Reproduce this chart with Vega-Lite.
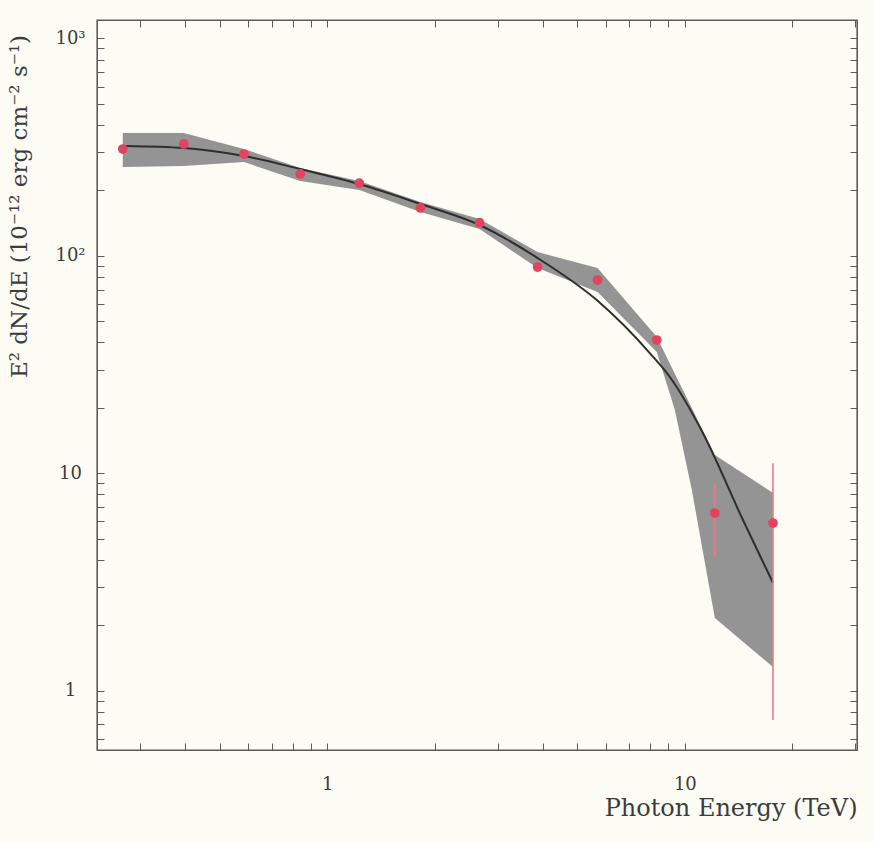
{
  "$schema": "https://vega.github.io/schema/vega-lite/v6.json",
  "width": 760,
  "height": 730,
  "autosize": {"type": "none"},
  "padding": {"left": 97, "top": 20, "right": 17, "bottom": 93},
  "background": "#fcfcf4",
  "config": {
    "view": {"stroke": "#5a5a5a", "strokeWidth": 1.4},
    "font": "DejaVu Serif",
    "axis": {
      "labelFont": "DejaVu Serif",
      "titleFont": "DejaVu Serif",
      "labelFontSize": 18,
      "titleFontSize": 23,
      "titleFontWeight": "normal",
      "labelColor": "#3c3c3c",
      "titleColor": "#3c3c3c",
      "domainColor": "#5a5a5a",
      "tickColor": "#5a5a5a",
      "grid": false,
      "tickSize": -7,
      "labelFlush": false,
      "labelOverlap": false
    }
  },
  "datasets": {
    "points": [
      {"E": 0.268, "F": 310},
      {"E": 0.397, "F": 327},
      {"E": 0.585, "F": 294},
      {"E": 0.84, "F": 238},
      {"E": 1.229, "F": 216},
      {"E": 1.822, "F": 166},
      {"E": 2.666, "F": 142},
      {"E": 3.874, "F": 88.8},
      {"E": 5.7, "F": 77.4},
      {"E": 8.35, "F": 41.0},
      {"E": 12.13, "F": 6.56, "lo": 4.12, "hi": 9.02},
      {"E": 17.64, "F": 5.9, "lo": 0.732, "hi": 11.1}
    ],
    "band": [
      {"E": 0.268, "lo": 256.1, "hi": 367.2},
      {"E": 0.397, "lo": 258.8, "hi": 367.2},
      {"E": 0.585, "lo": 270.1, "hi": 309.9},
      {"E": 0.84, "lo": 220.9, "hi": 253.4},
      {"E": 1.229, "lo": 200.8, "hi": 220.9},
      {"E": 1.822, "lo": 159.0, "hi": 176.8},
      {"E": 2.666, "lo": 132.8, "hi": 147.7},
      {"E": 3.874, "lo": 87.9, "hi": 104.1},
      {"E": 5.7, "lo": 68.2, "hi": 87.9},
      {"E": 8.35, "lo": 36.1, "hi": 42.3},
      {"E": 9.38, "lo": 19.5, "hi": 28.6},
      {"E": 10.46, "lo": 8.37, "hi": 19.95},
      {"E": 12.13, "lo": 2.158, "hi": 12.13},
      {"E": 17.64, "lo": 1.284, "hi": 8.11}
    ],
    "fit": [
      {"E": 0.2735, "F": 319.9},
      {"E": 0.397, "F": 313.2},
      {"E": 0.585, "F": 287.8},
      {"E": 0.84, "F": 250.8},
      {"E": 1.229, "F": 213.9},
      {"E": 1.822, "F": 173.1},
      {"E": 2.666, "F": 138.6},
      {"E": 3.874, "F": 97.7},
      {"E": 5.67, "F": 62.6},
      {"E": 7.98, "F": 35.7},
      {"E": 9.08, "F": 27.7},
      {"E": 11.23, "F": 15.31},
      {"E": 14.54, "F": 6.09},
      {"E": 17.64, "F": 3.13}
    ]
  },
  "layer": [
    {
      "data": {"name": "band"},
      "mark": {"type": "area", "color": "#8e8e8e", "opacity": 0.95},
      "encoding": {
        "x": {
          "field": "E",
          "type": "quantitative",
          "scale": {"type": "log", "domain": [0.227, 30.3], "nice": false},
          "axis": {
            "orient": "bottom",
            "values": [0.3, 0.4, 0.5, 0.6, 0.7, 0.8, 0.9, 1, 2, 3, 4, 5, 6, 7, 8, 9, 10, 20, 30],
            "labelExpr": "datum.value == 1 ? '1' : datum.value == 10 ? '10' : ''",
            "labelPadding": 32,
            "title": "Photon Energy (TeV)",
            "titleFontSize": 24,
            "titleAnchor": "end",
            "titleAlign": "right",
            "titleBaseline": "middle",
            "titleX": 760,
            "titleY": 58
          }
        },
        "y": {
          "field": "hi",
          "type": "quantitative",
          "scale": {"type": "log", "domain": [0.533, 1216], "nice": false},
          "axis": {
            "orient": "left",
            "values": [0.6, 0.7, 0.8, 0.9, 1, 2, 3, 4, 5, 6, 7, 8, 9, 10, 20, 30, 40, 50, 60, 70, 80, 90, 100, 200, 300, 400, 500, 600, 700, 800, 900, 1000],
            "labelExpr": "datum.value == 1 ? '1' : datum.value == 10 ? '10' : datum.value == 100 ? '10²' : datum.value == 1000 ? '10³' : ''",
            "labelAlign": "center",
            "labelBaseline": "middle",
            "labelPadding": 34,
            "title": "E² dN/dE (10⁻¹² erg  cm⁻²  s⁻¹)",
            "titleAngle": -90,
            "titleAlign": "center",
            "titleBaseline": "middle",
            "titleX": -78,
            "titleY": 186
          }
        },
        "y2": {"field": "lo"}
      }
    },
    {
      "data": {"name": "fit"},
      "mark": {"type": "line", "color": "#2e2e2e", "strokeWidth": 2, "interpolate": "monotone"},
      "encoding": {
        "x": {
          "field": "E",
          "type": "quantitative",
          "scale": {"type": "log", "domain": [0.227, 30.3], "nice": false},
          "axis": {
            "orient": "top",
            "values": [0.3, 0.4, 0.5, 0.6, 0.7, 0.8, 0.9, 1, 2, 3, 4, 5, 6, 7, 8, 9, 10, 20, 30],
            "labels": false,
            "title": null
          }
        },
        "y": {
          "field": "F",
          "type": "quantitative",
          "scale": {"type": "log", "domain": [0.533, 1216], "nice": false},
          "axis": {
            "orient": "right",
            "values": [0.6, 0.7, 0.8, 0.9, 1, 2, 3, 4, 5, 6, 7, 8, 9, 10, 20, 30, 40, 50, 60, 70, 80, 90, 100, 200, 300, 400, 500, 600, 700, 800, 900, 1000],
            "labels": false,
            "title": null
          }
        }
      }
    },
    {
      "data": {"name": "points"},
      "transform": [{"filter": "isValid(datum.lo)"}],
      "mark": {"type": "rule", "color": "#e87a8c", "strokeWidth": 1.6},
      "encoding": {
        "x": {"field": "E", "type": "quantitative", "axis": null},
        "y": {"field": "lo", "type": "quantitative", "axis": null},
        "y2": {"field": "hi"}
      }
    },
    {
      "data": {"name": "points"},
      "mark": {"type": "point", "filled": true, "shape": "circle", "size": 95, "color": "#e2445f", "opacity": 1},
      "encoding": {
        "x": {"field": "E", "type": "quantitative", "axis": null},
        "y": {"field": "F", "type": "quantitative", "axis": null}
      }
    }
  ],
  "resolve": {"axis": {"x": "independent", "y": "independent"}}
}
